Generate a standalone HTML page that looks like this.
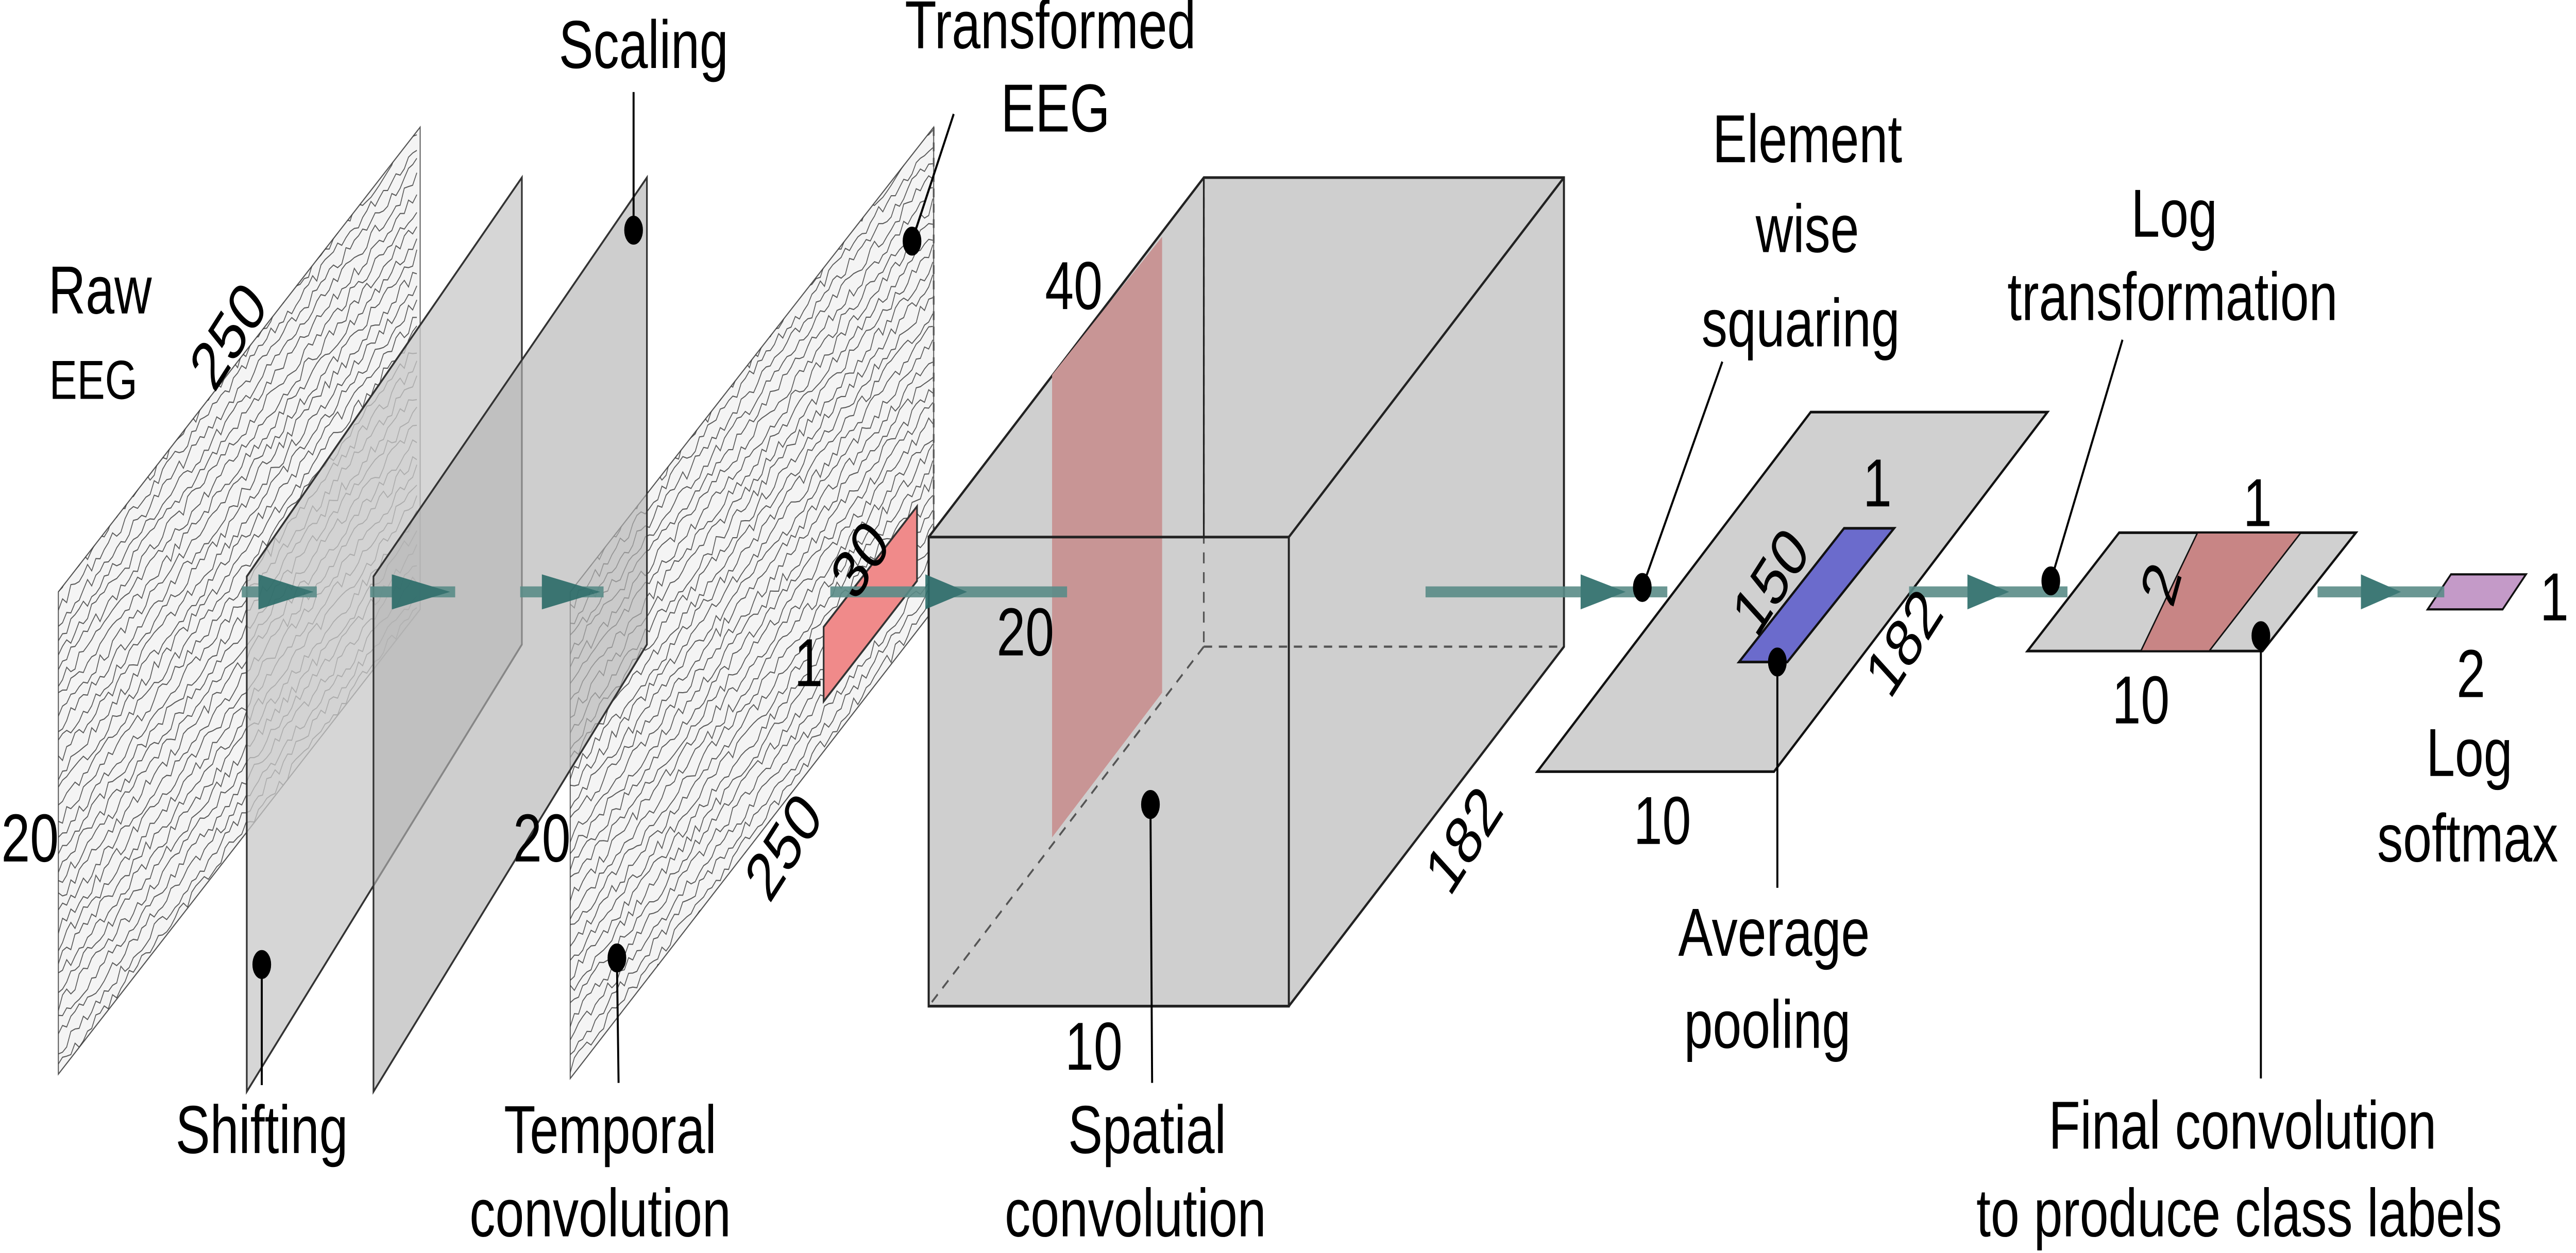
<!DOCTYPE html>
<html><head><meta charset="utf-8"><style>
html,body{margin:0;padding:0;background:#fff;width:100vw;height:100vh;overflow:hidden}
svg#main{display:block;position:absolute;left:0;top:0;width:100vw;height:100vh}
text{font-family:"Liberation Sans",sans-serif;fill:#000}
</style></head><body>
<svg id="main" viewBox="0 0 1545 571.6" preserveAspectRatio="none">
<defs>
<clipPath id="c1"><polygon points="35,270 252,58 252,278 35,490"/></clipPath>
<clipPath id="c2"><polygon points="342,270 560,58 560,278 342,492"/></clipPath>
</defs>
<g>
<polygon points="35,270 252,58 252,278 35,490" fill="#f4f4f4" stroke="#555" stroke-width="0.6"/>
<g id="tex1" clip-path="url(#c1)" stroke="#333" stroke-width="0.5" fill="none" opacity="0.8"></g>
</g>
<g>
<polygon points="342,270 560,58 560,278 342,492" fill="#f4f4f4" stroke="#555" stroke-width="0.6"/>
<g id="tex2" clip-path="url(#c2)" stroke="#333" stroke-width="0.5" fill="none" opacity="0.8"></g>
<line x1="560" y1="58" x2="560" y2="278" stroke="#555" stroke-dasharray="4,3"/>
</g>
<polygon points="148,263 313,81 313,294 148,498" fill="#c8c8c8" fill-opacity="0.75" stroke="#333" stroke-width="1"/>
<polygon points="224,263 388,81 388,294 224,498" fill="#b4b4b4" fill-opacity="0.65" stroke="#333" stroke-width="1"/>
<polygon points="494,286 550,231 550,265 494,320" fill="#f08a8a" stroke="#333" stroke-width="1"/>
<g>
<polygon points="557,245 722,81 938,81 938,295 773,459 557,459" fill="#cfcfcf" stroke="#222" stroke-width="1.2"/>
<polygon points="631,171 697,108 697,316 631,382" fill="#c89595"/>
<line x1="722" y1="81" x2="722" y2="295" stroke="#555" stroke-dasharray="5,4"/>
<line x1="722" y1="295" x2="938" y2="295" stroke="#555" stroke-dasharray="5,4"/>
<line x1="722" y1="295" x2="557" y2="459" stroke="#555" stroke-dasharray="5,4"/>
<rect x="557" y="245" width="216" height="214" fill="none" stroke="#222" stroke-width="1.2"/>
<line x1="773" y1="245" x2="938" y2="81" stroke="#222" stroke-width="1.2"/>
<line x1="722" y1="81" x2="722" y2="245" stroke="#222" stroke-width="1"/>
</g>
<g>
<polygon points="922,352 1086,188 1228,188 1064,352" fill="#d0d0d0" stroke="#111" stroke-width="1.2"/>
<polygon points="1043,302 1106,241 1136,241 1072,302" fill="#6b6bcc" stroke="#111" stroke-width="1.2"/>
</g>
<g>
<polygon points="1216,297 1271,243 1413,243 1357,297" fill="#d0d0d0" stroke="#111" stroke-width="1.2"/>
<polygon points="1284,297 1318,243 1380,243 1325,297" fill="#c88585" stroke="#111" stroke-width="0.8"/>
</g>
<polygon points="1456,278 1470,262 1515,262 1501,278" fill="#c49ac8" stroke="#111" stroke-width="1"/>
<g fill="#2e6e6a" stroke="#5a8c88" stroke-width="5" opacity="0.9">
<line x1="145" y1="270" x2="190" y2="270"/><line x1="222" y1="270" x2="273" y2="270"/><line x1="312" y1="270" x2="362" y2="270"/>
<line x1="498" y1="270" x2="640" y2="270"/><line x1="855" y1="270" x2="1000" y2="270"/>
<line x1="1145" y1="270" x2="1240" y2="270"/><line x1="1390" y1="270" x2="1466" y2="270"/>
<g stroke="none" fill="#2a6b68">
<polygon points="155,262 188,270 155,278"/><polygon points="235,262 270,270 235,278"/><polygon points="325,262 360,270 325,278"/>
<polygon points="555,262 580,270 555,278"/><polygon points="948,262 975,270 948,278"/>
<polygon points="1180,262 1205,270 1180,278"/><polygon points="1416,262 1440,270 1416,278"/>
</g></g>
<g stroke="#000" stroke-width="1.2" fill="#000">
<line x1="380" y1="105" x2="380" y2="42"/><ellipse cx="380" cy="105" rx="5" ry="6"/>
<line x1="547" y1="110" x2="572" y2="52"/><ellipse cx="547" cy="110" rx="5" ry="6"/>
<line x1="157" y1="440" x2="157" y2="495"/><ellipse cx="157" cy="440" rx="5" ry="6"/>
<line x1="370" y1="437" x2="371" y2="494"/><ellipse cx="370" cy="437" rx="5" ry="6"/>
<line x1="690" y1="367" x2="691" y2="494"/><ellipse cx="690" cy="367" rx="5" ry="6"/>
<line x1="985" y1="268" x2="1033" y2="165"/><ellipse cx="985" cy="268" rx="5" ry="6"/>
<line x1="1230" y1="265" x2="1273" y2="155"/><ellipse cx="1230" cy="265" rx="5" ry="6"/>
<line x1="1066" y1="302" x2="1066" y2="405"/><ellipse cx="1066" cy="302" rx="5" ry="6"/>
<line x1="1356" y1="290" x2="1356" y2="492"/><ellipse cx="1356" cy="290" rx="5" ry="6"/>
</g>
<g font-size="31" text-anchor="middle">
<text x="60" y="143">Raw</text>
<text x="56" y="182" font-size="25">EEG</text>
<text transform="translate(145,160) rotate(-50)">250</text>
<text x="18" y="393">20</text>
<text x="386" y="31">Scaling</text>
<text x="630" y="22">Transformed</text>
<text x="633" y="60">EEG</text>
<text x="325" y="393">20</text>
<text transform="translate(478,393) rotate(-50)">250</text>
<text transform="translate(524,262) rotate(-50)">30</text>
<text x="485" y="313">1</text>
<text x="644" y="141">40</text>
<text x="615" y="299">20</text>
<text transform="translate(886,390) rotate(-50)">182</text>
<text x="656" y="488">10</text>
<text x="1084" y="74">Element</text>
<text x="1084" y="115">wise</text>
<text x="1080" y="158">squaring</text>
<text x="1126" y="231">1</text>
<text transform="translate(1070,272) rotate(-50)">150</text>
<text transform="translate(1150,300) rotate(-50)">182</text>
<text x="997" y="385">10</text>
<text x="1064" y="436">Average</text>
<text x="1060" y="478">pooling</text>
<text x="1304" y="108">Log</text>
<text x="1303" y="146">transformation</text>
<text transform="translate(1306,270) rotate(-70)">2</text>
<text x="1354" y="240">1</text>
<text x="1284" y="330">10</text>
<text x="1532" y="283">1</text>
<text x="1482" y="318">2</text>
<text x="1481" y="354">Log</text>
<text x="1480" y="393">softmax</text>
<text x="157" y="526">Shifting</text>
<text x="366" y="526">Temporal</text>
<text x="360" y="564">convolution</text>
<text x="688" y="526">Spatial</text>
<text x="681" y="564">convolution</text>
<text x="1345" y="524">Final convolution</text>
<text x="1343" y="564">to produce class labels</text>
</g>
</svg>
<script>
// decorative EEG squiggles (texture, not data)
function tex(id,x0,x1,yTop,yBot){
  var g=document.getElementById(id);var s=7;
  function r(){s=(s*9301+49297)%233280;return s/233280;}
  for(var row=0;row<60;row++){
    var pts=[];var base=row*7;
    for(var x=x0;x<=x1;x+=2.5){
      var y=yTop+base-(x-x0)*0.975+(r()-0.5)*6;
      pts.push(x.toFixed(1)+","+y.toFixed(1));
    }
    var p=document.createElementNS("http://www.w3.org/2000/svg","polyline");
    p.setAttribute('points',pts.join(" "));
    
    
    g.appendChild(p);
  }
}
tex('tex1',35,252,270,490);
tex('tex2',342,560,270,492);
</script>
</body></html>
